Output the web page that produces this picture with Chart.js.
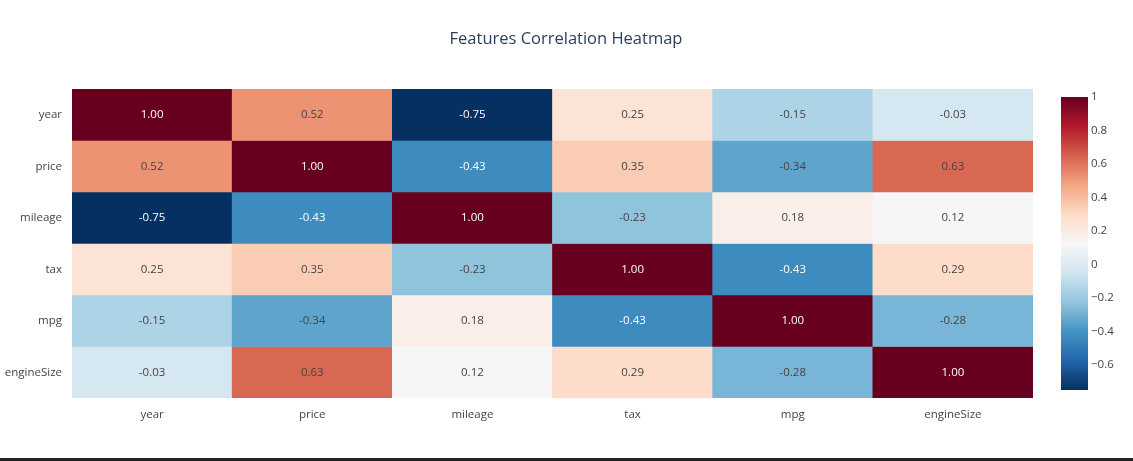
<!DOCTYPE html>
<html>
<head>
<meta charset="utf-8">
<script src="https://cdn.jsdelivr.net/npm/chart.js@4"></script>
<style>
  html, body { margin: 0; padding: 0; background: #fff; overflow: hidden; }
  #wrap { width: 1133px; height: 461px; position: relative; }
  #heat { display: block; }
  #bar { position: absolute; left: 0; bottom: 0; width: 1133px; height: 3px; background: #222; }
</style>
</head>
<body>
<div id="wrap"><canvas id="heat" width="1133" height="458"></canvas><div id="bar"></div></div>
<script>
// ===== data =====
const features = ["year", "price", "mileage", "tax", "mpg", "engineSize"];
const corrYear = [1.00, 0.52, -0.75, 0.25, -0.15, -0.03];
const corrPrice = [0.52, 1.00, -0.43, 0.35, -0.34, 0.63];
const corrMileage = [-0.75, -0.43, 1.00, -0.23, 0.18, 0.12];
const corrTax = [0.25, 0.35, -0.23, 1.00, -0.43, 0.29];
const corrMpg = [-0.15, -0.34, 0.18, -0.43, 1.00, -0.28];
const corrEngine = [-0.03, 0.63, 0.12, 0.29, -0.28, 1.00];
const matrix = [corrYear, corrPrice, corrMileage, corrTax, corrMpg, corrEngine];
const colorTicks = [1, 0.8, 0.6, 0.4, 0.2, 0, -0.2, -0.4, -0.6];
const zMin = -0.75, zMax = 1;

// RdBu reversed
const palette = ["#053061", "#2166ac", "#4393c3", "#92c5de", "#d1e5f0", "#f7f7f7",
                 "#fddbc7", "#f4a582", "#d6604d", "#b2182b", "#67001f"];

function hexRgb(h) {
    return [1, 3, 5].map(i => parseInt(h.slice(i, i + 2), 16));
}

function colorFor(v) {
    let t = (v - zMin) / (zMax - zMin);
    t = Math.max(0, Math.min(1, t)) * (palette.length - 1);
    const i = Math.min(Math.floor(t), palette.length - 2);
    const f = t - i;
    const a = hexRgb(palette[i]), b = hexRgb(palette[i + 1]);
    const c = a.map((x, k) => Math.round(x + (b[k] - x) * f));
    return "rgb(" + c.join(",") + ")";
}

const FONT = "'Open Sans', sans-serif";

// one floating-bar dataset per row
const datasets = matrix.map((row, r) => ({
    label: features[r],
    data: row.map(() => [r, r + 1]),
    values: row,
    backgroundColor: row.map(v => colorFor(v)),
    borderWidth: 0,
    barPercentage: 1,
    categoryPercentage: 1,
    grouped: false
}));

const overlay = {
    id: "overlay",
    afterDatasetsDraw(chart) {
        const c = chart.ctx;
        c.save();
        c.font = "11.5px " + FONT;
        c.textAlign = "center";
        c.textBaseline = "middle";
        chart.data.datasets.forEach((ds, r) => {
            chart.getDatasetMeta(r).data.forEach((el, i) => {
                const v = ds.values[i];
                c.fillStyle = (v >= 0.9 || v <= -0.4) ? "#fff" : "#444";
                c.fillText(v.toFixed(2), el.x, (el.y + el.base) / 2);
            });
        });
        // title
        c.font = "16.5px " + FONT;
        c.fillStyle = "#2a3f5f";
        c.fillText("Features Correlation Heatmap", 566, 39);

        // colorbar
        const x0 = 1061, x1 = 1088, top = 97, bot = 390;
        const g = c.createLinearGradient(0, bot, 0, top);
        palette.forEach((p, k) => g.addColorStop(k / (palette.length - 1), p));
        c.fillStyle = g;
        c.fillRect(x0, top, x1 - x0, bot - top);
        c.font = "11.5px " + FONT;
        c.textAlign = "left";
        c.fillStyle = "#444";
        colorTicks.forEach(t => {
            const y = bot - (t - zMin) / (zMax - zMin) * (bot - top);
            c.fillText(t < 0 ? "\u2212" + Math.abs(t) : String(t), x1 + 3, y);
        });
        c.restore();
    }
};

new Chart(document.getElementById("heat"), {
    type: "bar",
    data: { labels: features, datasets: datasets },
    options: {
        responsive: false,
        animation: false,
        devicePixelRatio: 1,
        layout: { padding: { top: 89, right: 100, left: 0, bottom: 0 } },
        plugins: { legend: { display: false }, tooltip: { enabled: false } },
        scales: {
            x: {
                grid: { display: false },
                border: { display: false },
                ticks: { color: "#444", font: { family: FONT, size: 11.5 }, padding: 2 },
                afterFit(s) { s.height = 60; }
            },
            y: {
                min: 0,
                max: 6,
                reverse: true,
                grid: { display: false },
                border: { display: false },
                afterBuildTicks(s) {
                    s.ticks = features.map((f, i) => ({ value: i + 0.5 }));
                },
                ticks: {
                    color: "#444",
                    font: { family: FONT, size: 11.5 },
                    padding: 2,
                    callback: (v) => features[Math.floor(v)]
                },
                afterFit(s) { s.width = 72; }
            }
        }
    },
    plugins: [overlay]
});
</script>
</body>
</html>
